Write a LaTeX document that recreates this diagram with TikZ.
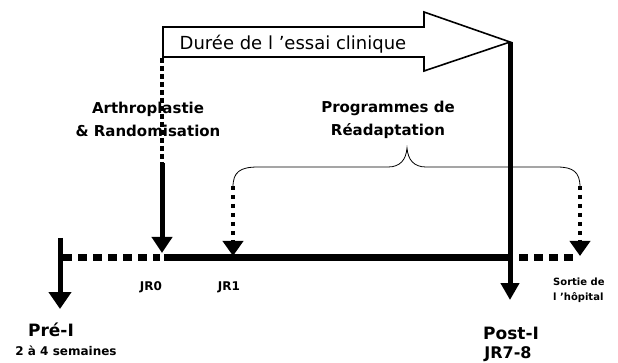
\documentclass[tikz,border=0pt]{standalone}
\usepackage{fontspec}
\setmainfont{DejaVu Sans}
\usetikzlibrary{arrows.meta}
\newcommand{\sq}{{\char39}}
\begin{document}
\begin{tikzpicture}[x=1pt,y=-1pt,
  thickline/.style={line width=5pt},
  bigtip/.style={-{Triangle[length=16pt,width=20pt]}},
  dotline/.style={line width=4pt, dash pattern=on 4.5pt off 4.5pt},
  timeline/.style={line width=7pt},
  timedash/.style={line width=7pt, dash pattern=on 9pt off 6pt},
  lbl/.style={inner sep=0pt},
]
\useasboundingbox (0,0) rectangle (618,363);

% big arrow "Durée de l'essai clinique"
\draw[line width=1.6pt, line join=miter] (163,27) -- (424,27) -- (424,12) -- (510,42) -- (424,71) -- (424,57) -- (163,57) -- cycle;
\node[lbl, font=\fontsize{18}{20}\selectfont] (duree) at (293,44) {Durée de l \sq essai clinique};

% coordinates
\coordinate (jr0a) at (162,58);
\coordinate (jr0b) at (162,163);
\coordinate (jr0c) at (162,253);
\coordinate (tip) at (510,42);
\coordinate (posti) at (510,300);
\coordinate (prea) at (60,238);
\coordinate (preb) at (60,309);
\coordinate (jr1a) at (233,186);
\coordinate (jr1b) at (233,256);
\coordinate (sorta) at (580,186);
\coordinate (sortb) at (580,256);
\coordinate (tl0) at (63,258);
\coordinate (tl1) at (160,258);
\coordinate (tl2) at (164,258);
\coordinate (tl3) at (510,258);
\coordinate (tl4) at (519,258);
\coordinate (tl5) at (575,258);

% timeline
\draw[timedash] (tl0) -- (tl1);
\draw[timeline] (tl2) -- (tl3);
\draw[timeline, dash pattern=on 8.5pt off 6.5pt] (tl4) -- (tl5);

% JR0 arrow
\draw[line width=4pt, dash pattern=on 5pt off 3pt] (jr0a) -- (jr0b);
\draw[thickline, bigtip] (jr0b) -- (jr0c);

% Post-I line
\draw[thickline, -{Triangle[length=17pt,width=18pt]}] (tip) -- (posti);

% Pre-I line
\draw[thickline, -{Triangle[length=17pt,width=22pt]}] (prea) -- (preb);

% dotted arrows
\draw[dotline, -{Triangle[length=15pt,width=20pt]}] (jr1a) -- (jr1b);
\draw[dotline, -{Triangle[length=15pt,width=20pt]}] (sorta) -- (sortb);

% brace
\draw[line width=0.8pt] (233,187) .. controls (233,172) and (240,167) .. (258,167)
  -- (388,167) .. controls (400,167) and (406,160) .. (407,148)
  .. controls (408,160) and (414,167) .. (426,167)
  -- (557,167) .. controls (573,167) and (580,172) .. (580,187);

% labels
\node[lbl, align=center, font=\bfseries\fontsize{15}{23}\selectfont] (arthro) at (148,119) {Arthroplastie\\\& Randomisation};
\node[lbl, align=center, font=\bfseries\fontsize{15}{23}\selectfont] (prog) at (388,120) {Programmes de\\Réadaptation};
\node[lbl, font=\bfseries\fontsize{12}{14}\selectfont] (jr0) at (151,287) {JR0};
\node[lbl, font=\bfseries\fontsize{12}{14}\selectfont] (jr1) at (229,287) {JR1};
\node[lbl, align=left, anchor=west, font=\bfseries\fontsize{10}{15}\selectfont] (sortie) at (553,290) {Sortie de\\l \sq hôpital};
\node[lbl, font=\bfseries\fontsize{17}{20}\selectfont] (pre) at (51,330) {Pré-I};
\node[lbl, font=\bfseries\fontsize{12}{14}\selectfont] (sem) at (66,351) {2 à 4 semaines};
\node[lbl, font=\bfseries\fontsize{17}{20}\selectfont] (post) at (511,333) {Post-I};
\node[lbl, font=\bfseries\fontsize{16}{18}\selectfont] (jr78) at (508,354) {JR7-8};
\end{tikzpicture}
\end{document}
